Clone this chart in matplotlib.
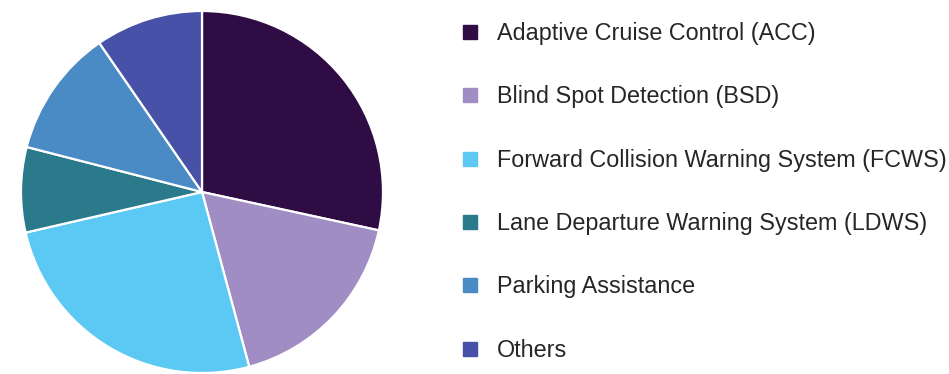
import matplotlib.pyplot as plt
from matplotlib.lines import Line2D

labels = ['Adaptive Cruise Control (ACC)', 'Blind Spot Detection (BSD)',
          'Forward Collision Warning System (FCWS)',
          'Lane Departure Warning System (LDWS)', 'Parking Assistance', 'Others']
shares = [28.4, 17.4, 25.6, 7.6, 11.4, 9.6]
colors = ['#300c45', '#a08dc4', '#5bc9f3', '#2a7a8b', '#4a8bc5', '#4651a7']

W, H = 949, 374
fig = plt.figure(figsize=(W / 100, H / 100), dpi=100)

# pie centred at (202, 192) px, radius 181 px
cx, cy, r = 202, 192, 181
ax = fig.add_axes([(cx - r) / W, (H - cy - r) / H, 2 * r / W, 2 * r / H])
ax.pie(shares, colors=colors, startangle=90, counterclock=False,
       wedgeprops=dict(edgecolor='white', linewidth=1.6))
ax.set_xlim(-1, 1)
ax.set_ylim(-1, 1)
ax.set_aspect('equal')

handles = [Line2D([], [], marker='s', linestyle='none', markersize=9.5,
                  markerfacecolor=c, markeredgecolor=c) for c in colors]
fig.legend(handles, labels, loc='upper left', bbox_to_anchor=(458 / W, 1 - 22 / H),
           frameon=False, labelspacing=1.73, handletextpad=0.68,
           handlelength=1.0, borderpad=0, borderaxespad=0,
           prop={'family': 'Liberation Sans', 'size': 16.8}, labelcolor='#262626')

fig.savefig('out.png', dpi=100)
